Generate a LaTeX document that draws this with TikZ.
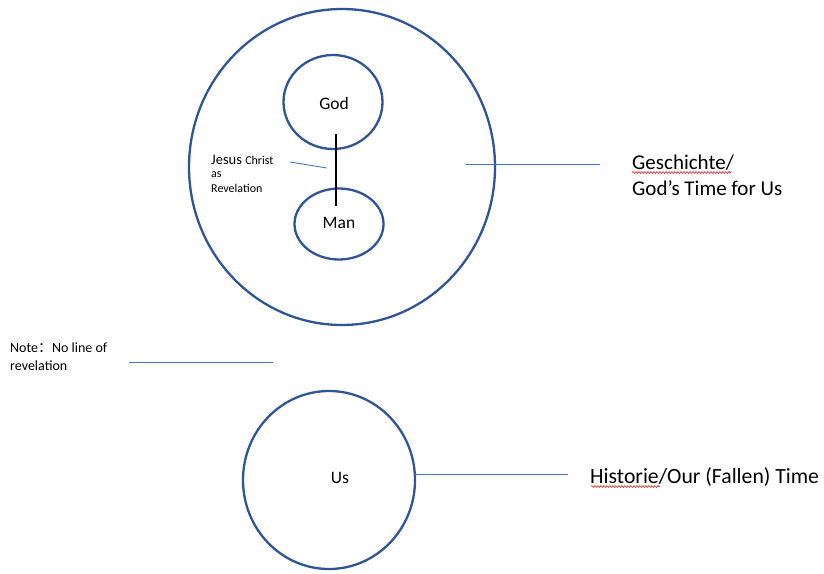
\documentclass[tikz,border=0pt]{standalone}
\usepackage{fontspec}
\setmainfont{Carlito}
\newfontfamily\cjk{Noto Sans CJK SC}
\usetikzlibrary{shapes.geometric,decorations.pathmorphing}
\definecolor{ringblue}{HTML}{2F5597}
\definecolor{lineblue}{HTML}{4472C4}
\definecolor{squiggle}{HTML}{E02020}
\begin{document}
\begin{tikzpicture}[x=1pt,y=-1pt,
  ring/.style={draw=ringblue, line width=2.3pt, ellipse, inner sep=0pt},
  link/.style={draw=lineblue, line width=0.9pt},
  label/.style={inner sep=0pt, anchor=base west},
  centerlabel/.style={inner sep=0pt, anchor=base, font=\fontsize{17.5}{20}\selectfont},
  spell/.style={draw=squiggle, line width=0.6pt, decorate, decoration={snake, amplitude=0.9pt, segment length=3pt}}]
\useasboundingbox[fill=white] (0,0) rectangle (824,573);
% circles
\node[ring, minimum width=306pt, minimum height=316pt] (outer) at (342,167) {};
\node[ring, minimum width=99pt, minimum height=94pt] (god) at (333,102) {};
\node[ring, minimum width=89pt, minimum height=71pt] (man) at (339,224) {};
\node[ring, minimum width=172pt, minimum height=178pt] (us) at (329,480) {};
% inner labels
\node[centerlabel] (godtxt) at (334,109) {God};
\node[centerlabel] (mantxt) at (339,228.5) {Man};
\node[centerlabel] (ustxt) at (340,483) {Us};
% line of revelation
\coordinate (revtop) at (336,134);
\coordinate (revbot) at (336,206);
\draw[black, line width=1.2pt] (revtop) -- (revbot);
% Jesus Christ label
\node[label] (jesus) at (211,164) {\fontsize{14.5}{16}\selectfont Jesus \fontsize{12}{14}\selectfont Christ};
\node[label, font=\fontsize{12}{14}\selectfont] (as) at (211,177.5) {as};
\node[label, font=\fontsize{12}{14}\selectfont] (revel) at (211,192.5) {Revelation};
\coordinate (jcA) at (290,162);
\coordinate (jcB) at (327,168);
\draw[link] (jcA) -- (jcB);
% Geschichte
\node[label, font=\fontsize{21}{24}\selectfont] (gesch) at (632,169) {Geschichte/};
\node[label, font=\fontsize{21}{24}\selectfont] (godtime) at (632,195) {God’s Time for Us};
\coordinate (gA) at (466,164);
\coordinate (gB) at (600,164);
\draw[link] (gA) -- (gB);
\coordinate (sq1a) at (632,172.5);
\coordinate (sq1b) at (731,172.5);
\draw[spell] (sq1a) -- (sq1b);
% Note
\node[label, font=\fontsize{14}{16}\selectfont] (note) at (10,352) {Note{\cjk ：}No line of};
\node[label, font=\fontsize{14}{16}\selectfont] (note2) at (10,370.5) {revelation};
\coordinate (nA) at (129,362);
\coordinate (nB) at (273,362);
\draw[link] (nA) -- (nB);
% Historie
\node[label, font=\fontsize{21.7}{25}\selectfont] (hist) at (590,483) {Historie/Our (Fallen) Time};
\coordinate (hA) at (415,474);
\coordinate (hB) at (568,474);
\draw[link] (hA) -- (hB);
\coordinate (sq2a) at (591,486.5);
\coordinate (sq2b) at (660,486.5);
\draw[spell] (sq2a) -- (sq2b);
\end{tikzpicture}
\end{document}
